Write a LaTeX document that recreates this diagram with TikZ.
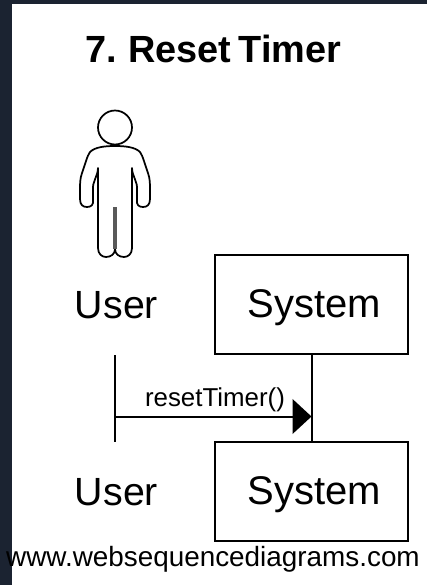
\documentclass[tikz,border=0pt]{standalone}
\usepackage{fontspec}
\setmainfont{Liberation Sans}
\usetikzlibrary{arrows.meta}
\definecolor{pageDark}{HTML}{1B2331}
\tikzset{every picture/.style={line width=1.5pt}}
\tikzset{
  sysbox/.style={draw,minimum width=144.75pt,minimum height=74.25pt,inner sep=0pt,text height=26.2pt,text depth=6pt,font=\fontsize{30}{31}\selectfont},
  actorlabel/.style={anchor=base,inner sep=0.75pt,font=\fontsize{29.5}{30}\selectfont},
  msgline/.style={-{Triangle[length=14.25pt,width=26pt]}},
  figline/.style={line width=1.3pt,line join=round}
}

\begin{document}
\begin{tikzpicture}[x=0.75pt,y=0.75pt,yscale=-1,xscale=1]
\useasboundingbox (0,0) rectangle (427,585);

%Background
\fill [pageDark] (0,0) rectangle (427,585);
\fill [white] (12,4) rectangle (427,585);

% Text Node
\draw (213.5,63) node [anchor=base][inner sep=0.75pt][font=\fontsize{28.4}{30}\selectfont\bfseries] (titleNode) {\spaceskip=0.2em 7. Reset Timer};

%Actor head
\draw [figline] (115,127.5) circle [radius=17];
%Actor body
\draw [figline] (115,146) .. controls (105,146) and (95,147) .. (90,152) .. controls (87,156) and (85,165) .. (82,173) .. controls (80,179) and (80,183) .. (80,190) -- (80,199) .. controls (80,205) and (83,207) .. (87,207) .. controls (91,207) and (94,205) .. (93,199) -- (93,190) .. controls (92,182) and (98,176) .. (98,168) -- (98,248) .. controls (98,254) and (102,257) .. (106,257) .. controls (111,257) and (115,254) .. (115,249) .. controls (115,254) and (119,257) .. (124,257) .. controls (128,257) and (132,254) .. (132,248) -- (132,168) .. controls (132,176) and (138,182) .. (137,190) -- (137,199) .. controls (136,205) and (139,207) .. (143,207) .. controls (147,207) and (150,205) .. (150,199) -- (150,190) .. controls (150,183) and (150,179) .. (148,173) .. controls (145,165) and (143,156) .. (140,152) .. controls (135,147) and (125,146) .. (115,146) -- cycle;
\draw [line width=3.5pt,color=black!65] (115,207) -- (115,249);

% Text Node
\draw (116.5,318) node [actorlabel] (userTop) {User};
% Text Node
\draw (116.5,505) node [actorlabel] (userBottom) {User};
% Text Node
\draw (311.5,304.5) node [sysbox] (systemTop) {\hspace*{4pt}System};
% Text Node
\draw (311.5,491.5) node [sysbox] (systemBottom) {\hspace*{4pt}System};

%Lifelines
\coordinate (userLifeTop) at (115,355);
\coordinate (userLifeBottom) at (115,442);
\draw (userLifeTop) -- (userLifeBottom);
\draw (systemTop.south) -- (systemBottom.north);

%Message
\coordinate (msgStart) at (115,416.5);
\coordinate (msgEnd) at (311.5,416.5);
\draw [msgline] (msgStart) -- (msgEnd);
% Text Node
\draw (215,406.5) node [anchor=base][inner sep=0.75pt][font=\fontsize{19.4}{21}\selectfont] (msgLabel) {resetTimer()};

% Text Node
\draw (213,566.5) node [anchor=base][inner sep=0.75pt][font=\fontsize{20.9}{22}\selectfont] (siteLabel) {www.websequencediagrams.com};

\end{tikzpicture}
\end{document}
